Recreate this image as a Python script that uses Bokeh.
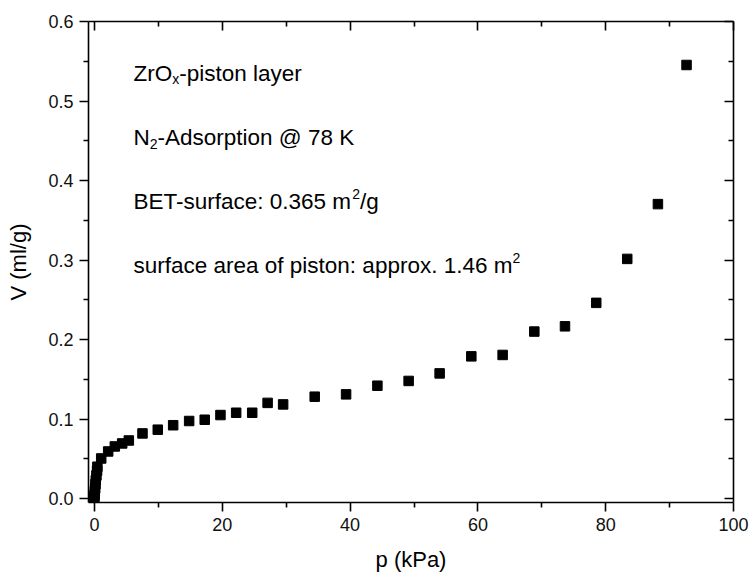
from bokeh.plotting import figure
from bokeh.models import Range1d, LinearAxis, FixedTicker, NumeralTickFormatter, Label, ColumnDataSource
from bokeh.embed import file_html
from bokeh.resources import INLINE

# data
p_kpa = [-0.1, 0.0, 0.02, 0.05, 0.1, 0.15, 0.2, 0.3, 0.4, 0.45, 1.05, 2.14, 3.18,
         4.33, 5.37, 7.51, 9.90, 12.31, 14.81, 17.25, 19.71, 22.17, 24.68, 27.09,
         29.52, 34.46, 39.37, 44.27, 49.16, 54.01, 58.97, 63.87, 68.83, 73.63,
         78.52, 83.37, 88.17, 92.65]
v_mlg = [0.000, 0.002, 0.005, 0.009, 0.013, 0.018, 0.023, 0.029, 0.035, 0.040,
         0.0504, 0.0592, 0.0655, 0.0693, 0.0730, 0.0819, 0.0866, 0.0922, 0.0975,
         0.0991, 0.1050, 0.1079, 0.1079, 0.1203, 0.1184, 0.1281, 0.1310, 0.1419,
         0.1479, 0.1574, 0.1788, 0.1806, 0.2100, 0.2166, 0.2461, 0.3014, 0.3703,
         0.5453]
x_major = [0, 20, 40, 60, 80, 100]
x_minor = [10, 30, 50, 70, 90]
y_major = [0.0, 0.1, 0.2, 0.3, 0.4, 0.5, 0.6]
y_minor = [0.05, 0.15, 0.25, 0.35, 0.45, 0.55]

# annotation lines: (segment text, kind)
notes = [
    [("ZrO", "n"), ("x", "sub"), ("-piston layer", "n")],
    [("N", "n"), ("2", "sub"), ("-Adsorption @ 78 K", "n")],
    [("BET-surface: 0.365 m", "n"), ("2", "sup"), ("/g", "n")],
    [("surface area of piston: approx. 1.46 m", "n"), ("2", "sup")],
]
note_x = 6.1
note_y = [0.535, 0.454, 0.373, 0.293]

FONT = "Liberation Sans"
MAIN = 22.5
SMALL = 14

W = {'Z': 611, 'r': 333, 'O': 778, '-': 333, 'p': 556, 'i': 222, 's': 500, 't': 278,
     'o': 556, 'n': 556, ' ': 278, 'l': 222, 'a': 556, 'y': 500, 'e': 556, 'N': 722,
     'A': 667, 'd': 556, '@': 1015, '7': 556, '8': 556, 'K': 667, 'B': 667, 'E': 667,
     'T': 611, 'u': 556, 'f': 278, 'c': 500, ':': 278, '0': 556, '.': 278, '3': 556,
     '6': 556, '5': 556, 'm': 833, '/': 278, 'g': 556, 'x': 500, '1': 556, '4': 556,
     '2': 556}


def tw(s, size):
    return sum(W.get(c, 556) for c in s) * size / 1000.0


p = figure(width=750, height=576, output_backend="svg", toolbar_location=None,
           x_range=Range1d(-0.94, 100), y_range=Range1d(-0.005, 0.6),
           min_border_left=88, min_border_right=17, min_border_top=21,
           min_border_bottom=74, x_axis_label="p (kPa)", y_axis_label="V (ml/g)")
p.background_fill_color = "white"
p.border_fill_color = "white"
p.outline_line_color = None
p.xgrid.visible = False
p.ygrid.visible = False

src = ColumnDataSource(dict(x=p_kpa, y=v_mlg))
p.scatter("x", "y", source=src, marker="square", size=9.5, fill_color="black",
          line_color="black")

xt = FixedTicker(ticks=x_major, minor_ticks=x_minor)
yt = FixedTicker(ticks=y_major, minor_ticks=y_minor)


def style(ax, outside, labels):
    ax.axis_line_width = 1.6
    ax.axis_line_color = "black"
    ax.major_tick_line_width = 1.6
    ax.minor_tick_line_width = 1.6
    ax.major_tick_line_color = "black"
    ax.minor_tick_line_color = "black"
    if outside:
        ax.major_tick_out = 9
        ax.major_tick_in = 0
        ax.minor_tick_out = 5
        ax.minor_tick_in = 0
    else:
        ax.major_tick_out = 0
        ax.major_tick_in = 9
        ax.minor_tick_out = 0
        ax.minor_tick_in = 5
    ax.major_label_text_font = FONT
    ax.major_label_text_font_size = "18px"
    ax.major_label_text_color = "#111111"
    ax.axis_label_text_font = FONT
    ax.axis_label_text_font_size = "22px"
    ax.axis_label_text_font_style = "normal"
    ax.axis_label_text_color = "black"
    if not labels:
        ax.major_label_text_font_size = "0px"
        ax.major_label_text_alpha = 0


xa = p.xaxis[0]
xa.ticker = xt
style(xa, True, True)
xa.major_label_standoff = 6
xa.axis_label_standoff = 13

ya = p.yaxis[0]
ya.ticker = yt
ya.formatter = NumeralTickFormatter(format="0.0")
style(ya, True, True)
ya.major_label_standoff = 6
ya.axis_label_standoff = 14

top = LinearAxis(ticker=FixedTicker(ticks=x_major, minor_ticks=x_minor))
style(top, False, False)
top.major_label_standoff = 0
p.add_layout(top, "above")

right = LinearAxis(ticker=FixedTicker(ticks=y_major, minor_ticks=y_minor))
style(right, False, False)
right.major_label_standoff = 0
p.add_layout(right, "right")

for segs, yv in zip(notes, note_y):
    off = 0.0
    for text, kind in segs:
        size = MAIN if kind == "n" else SMALL
        dy = 0 if kind == "n" else (-6 if kind == "sub" else 8)
        p.add_layout(Label(x=note_x, y=yv, x_offset=off, y_offset=dy, text=text,
                           text_font=FONT, text_font_size=f"{size}px",
                           text_color="black", text_baseline="alphabetic",
                           text_align="left"))
        off += tw(text, size)

open("out.html", "w").write(file_html(p, INLINE))
